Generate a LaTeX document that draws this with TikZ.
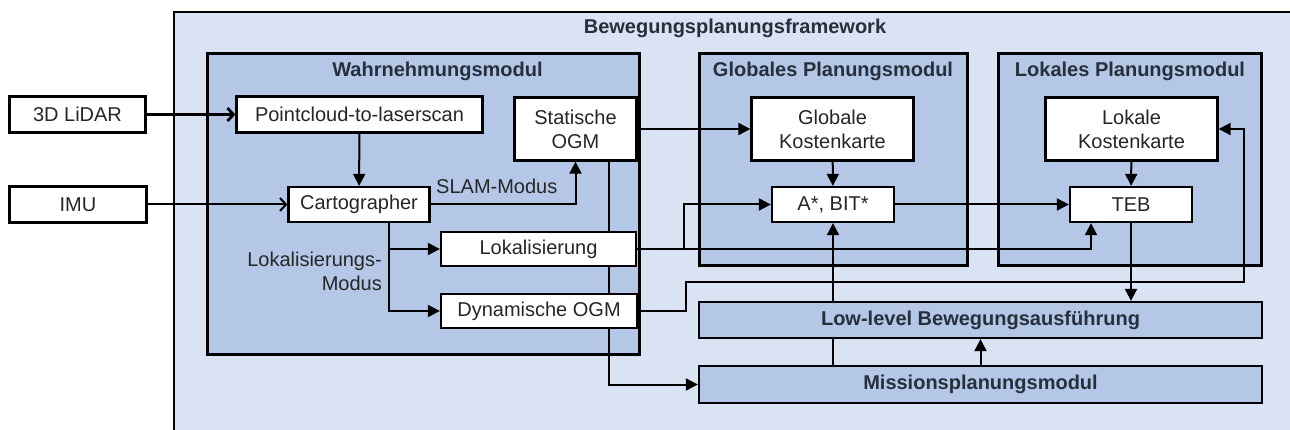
\documentclass[tikz,border=0pt]{standalone}
\usepackage{fontspec}
\setmainfont{Liberation Sans}
\usepackage{xcolor}
\usetikzlibrary{arrows.meta}
\definecolor{framefill}{RGB}{218,227,243}
\definecolor{modfill}{RGB}{180,199,231}
\definecolor{titlecol}{RGB}{38,47,60}

\begin{document}
\begin{tikzpicture}[x=1pt, y=-1pt, font=\fontsize{20}{24}\selectfont,
  module/.style={draw, line width=2.3pt, fill=modfill, inner sep=0pt},
  box/.style={draw, line width=2.3pt, fill=white, inner sep=0pt, align=center, text=black!85},
  modtitle/.style={font=\fontsize{20}{24}\selectfont\bfseries, text=titlecol, inner sep=0pt},
  arr/.style={line width=2pt, -{Triangle[length=12pt,width=12pt]}},
  inarr/.style={line width=2pt, -{Straight Barb[length=6pt,width=13pt]}}]
\clip (0,0) rectangle (1290,430);
\draw[line width=2.3pt, fill=framefill] (174,12) rectangle (1320,460);
\node[modtitle, anchor=base] (frametitle) at (735,34) {Bewegungsplanungsframework};
% modules
\node[module, minimum width=432pt, minimum height=301pt] (wahr) at (423.5,204) {};
\node[module, minimum width=268pt, minimum height=212pt] (glob) at (833.5,159.5) {};
\node[module, minimum width=263pt, minimum height=212pt] (lok) at (1130,159.5) {};
\node[modtitle, anchor=base] (wahrtitle) at (437.5,77) {Wahrnehmungsmodul};
\node[modtitle, anchor=base] (globtitle) at (833,77) {Globales Planungsmodul};
\node[modtitle, anchor=base] (loktitle) at (1130,77) {Lokales Planungsmodul};
\node[box, minimum width=122pt, minimum height=63pt] (sogm) at (575.5,129) {Statische\\OGM};
\node[box, minimum width=122pt, minimum height=35pt] (astar) at (833,204.5) {A*, BIT*};
\node[module, modtitle, minimum width=563pt, minimum height=37pt] (miss) at (980.5,384.5) {Missionsplanungsmodul};
% lines running behind the boxes
\draw[arr] ([xshift=33pt]sogm.south) |- (miss.west);
\draw[arr] (miss.north -| astar.south) -- (astar.south);
\node[module, modtitle, minimum width=563pt, minimum height=36pt] (low) at (980.5,320) {Low-level Bewegungsausführung};
% boxes
\node[box, minimum width=136pt, minimum height=36pt] (lidar) at (77.5,114.5) {3D LiDAR};
\node[box, minimum width=137pt, minimum height=36pt] (imu) at (78,204.5) {IMU};
\node[box, minimum width=246pt, minimum height=36pt] (pcl) at (359.5,114.5) {Pointcloud-to-laserscan};
\node[box, minimum width=141pt, minimum height=35pt] (carto) at (359,204.5) {Cartographer};
\node[box, minimum width=195pt, minimum height=34pt] (loc) at (538.5,249) {Lokalisierung};
\node[box, minimum width=196pt, minimum height=34pt] (dogm) at (539,311) {Dynamische OGM};
\node[box, minimum width=162pt, minimum height=63pt] (gcost) at (832.5,129) {Globale\\Kostenkarte};
\node[box, minimum width=172pt, minimum height=63pt] (lcost) at (1131.5,129) {Lokale\\Kostenkarte};
\node[box, minimum width=122pt, minimum height=35pt] (teb) at (1131,204.5) {TEB};
\node[anchor=base west, inner sep=0pt, text=black!85] (slam) at (436,194) {SLAM-Modus};
\node[anchor=east, align=right, inner sep=0pt, text=black!85] (lokmodus) at (382,271) {Lokalisierungs-\\Modus};
% connectors
\draw[inarr, line width=2.8pt] (lidar) -- (pcl);
\draw[inarr] (imu) -- (carto);
\draw[arr] (pcl) -- (carto);
\draw[arr] (carto.east) -| (sogm.south);
\draw[arr] ([xshift=30pt]carto.south) |- (loc.west);
\draw[arr] ([xshift=30pt]carto.south) |- (dogm.west);
\draw[arr] (sogm.east) -- (gcost.west);
\draw[arr] (gcost) -- (astar);
\draw[arr] (lcost) -- (teb);
\draw[arr] (astar) -- (teb);
\draw[arr] (loc.east) -| ([xshift=-40pt]teb.south);
\draw[arr] (loc.east) -- ++(47,0) |- (astar.west);
\draw[arr] (dogm.east) -- ++(48,0) -- ++(0,-29) -| ([xshift=25pt]lcost.east) -- (lcost.east);
\draw[arr] (teb.south) -- (teb.south |- low.north);
\draw[arr] (miss.north) -- (low.south);
\end{tikzpicture}
\end{document}
